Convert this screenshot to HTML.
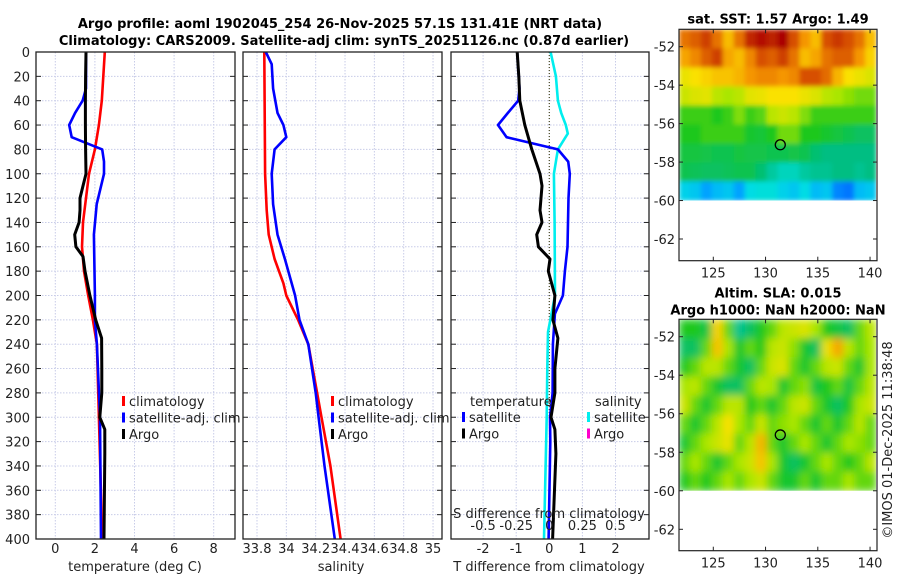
<!DOCTYPE html>
<html><head><meta charset="utf-8">
<style>
html,body{margin:0;padding:0;background:#fff;}
svg{display:block;font-family:"DejaVu Sans","Liberation Sans",sans-serif;}
.t{font-size:13px;fill:#222;}
.b{font-weight:bold;font-size:13px;fill:#000;}
</style></head>
<body>
<svg id="fig" width="900" height="580" viewBox="0 0 900 580" xmlns="http://www.w3.org/2000/svg">
<g id="g-title">
<text class="b" x="340" y="28" text-anchor="middle">Argo profile: aoml 1902045_254 26-Nov-2025 57.1S 131.41E (NRT data)</text>
<text class="b" x="344" y="45" text-anchor="middle">Climatology: CARS2009. Satellite-adj clim: synTS_20251126.nc (0.87d earlier)</text>
</g>
<g id="layer"></g>
<text class="t" x="0" y="0" font-size="12" transform="translate(892,440) rotate(-90)" text-anchor="middle">©IMOS 01-Dec-2025 11:38:48</text>
</svg>
<script>
// ---------- data ----------
const depthTicks=[0,20,40,60,80,100,120,140,160,180,200,220,240,260,280,300,320,340,360,380,400];
const tempTicks=[0,2,4,6,8];
const salTicks=[33.8,34,34.2,34.4,34.6,34.8,35];
const salTickLabels=["33.8","34","34.2","34.4","34.6","34.8","35"];
const tdTicks=[-2,-1,0,1,2];
const sdTicks=[-0.5,-0.25,0,0.25,0.5];
const sdTickLabels=["-0.5","-0.25","0","0.25","0.5"];

const argoTD=[0,20,40,60,80,100,110,120,130,140,150,160,168,180,200,220,235,260,280,300,310,330,400];
const argoT=[1.55,1.53,1.52,1.52,1.53,1.55,1.4,1.25,1.25,1.2,0.98,1.04,1.4,1.5,1.75,2.04,2.34,2.35,2.35,2.25,2.5,2.5,2.46];
const climTD=[0,40,60,80,100,120,140,160,180,200,220,240,300,400];
const climT=[2.5,2.35,2.2,2.0,1.7,1.55,1.4,1.35,1.45,1.66,1.9,2.1,2.2,2.37];
const satTD=[0,30,40,50,60,70,80,90,100,125,150,200,220,240,300,400];
const satT=[1.55,1.55,1.38,1.0,0.7,0.83,2.37,2.46,2.46,2.09,1.95,2.0,2.0,2.1,2.26,2.31];

const climSD=[0,100,130,150,170,190,200,220,240,280,300,340,400];
const climS=[33.85,33.855,33.866,33.88,33.92,33.98,34.0,34.08,34.15,34.21,34.24,34.3,34.37];
const satSD=[0,10,30,50,60,70,80,100,125,150,170,200,220,240,280,300,340,400];
const satS=[33.86,33.9,33.91,33.94,33.98,34.0,33.92,33.9,33.91,33.94,33.99,34.06,34.09,34.15,34.2,34.22,34.26,34.33];

const dArgoD=[0,20,40,60,80,100,110,130,140,150,160,170,180,200,220,235,260,280,300,310,330,400];
const dArgoT=[-0.97,-0.92,-0.89,-0.74,-0.53,-0.28,-0.22,-0.28,-0.22,-0.38,-0.33,0.02,-0.03,0.17,0.11,0.26,0.17,0.17,0.05,0.17,0.2,0.1];
const dSatD=[0,30,40,50,60,70,80,90,100,120,160,180,200,215,240,280,300,320,400];
const dSatT=[-0.97,-0.9,-0.94,-1.25,-1.55,-1.29,0.26,0.57,0.62,0.58,0.55,0.47,0.41,0.17,0.11,0.1,0.02,0.03,-0.02];
const dSalD=[0,20,40,50,60,67,80,100,140,200,230,260,300,400];
const dSalS=[0.01,0.05,0.065,0.09,0.125,0.14,0.065,0.035,0.04,0.043,-0.01,-0.015,-0.02,-0.04];

const sstGrid=[
[0.85,0.88,0.92,0.85,0.75,0.85,0.95,0.98,0.96,1.0,0.9,0.8,0.75,0.9,0.93,0.9,0.85,0.75],
[0.78,0.82,0.88,0.92,0.78,0.75,0.82,0.9,0.88,0.92,0.85,0.75,0.78,0.85,0.88,0.88,0.8,0.72],
[0.68,0.7,0.72,0.74,0.74,0.76,0.8,0.82,0.82,0.8,0.82,0.9,0.9,0.86,0.76,0.7,0.68,0.66],
[0.64,0.66,0.67,0.62,0.6,0.62,0.67,0.68,0.7,0.7,0.7,0.68,0.66,0.62,0.6,0.58,0.56,0.56],
[0.52,0.52,0.52,0.5,0.52,0.57,0.52,0.54,0.62,0.64,0.62,0.57,0.52,0.52,0.52,0.52,0.52,0.52],
[0.5,0.5,0.52,0.52,0.52,0.52,0.48,0.47,0.5,0.56,0.56,0.5,0.5,0.48,0.46,0.44,0.42,0.42],
[0.46,0.46,0.45,0.44,0.44,0.46,0.45,0.45,0.44,0.44,0.45,0.44,0.4,0.38,0.38,0.38,0.38,0.38],
[0.44,0.43,0.42,0.42,0.43,0.44,0.44,0.4,0.34,0.3,0.3,0.34,0.36,0.36,0.38,0.38,0.36,0.38],
[0.22,0.2,0.14,0.18,0.2,0.14,0.24,0.26,0.26,0.22,0.2,0.24,0.18,0.2,0.1,0.08,0.18,0.2]];
const slaGrid=[
[0.5,0.5,0.45,0.72,0.55,0.36,0.42,0.5,0.55,0.62,0.64,0.66,0.6,0.5,0.46,0.42,0.55,0.62],
[0.42,0.42,0.55,0.74,0.6,0.48,0.55,0.5,0.62,0.64,0.58,0.48,0.42,0.68,0.78,0.62,0.55,0.6],
[0.5,0.55,0.62,0.62,0.55,0.48,0.42,0.55,0.64,0.66,0.55,0.48,0.55,0.62,0.64,0.55,0.48,0.6],
[0.6,0.62,0.55,0.48,0.42,0.42,0.55,0.62,0.6,0.48,0.55,0.58,0.46,0.5,0.55,0.46,0.55,0.62],
[0.64,0.55,0.48,0.55,0.62,0.62,0.5,0.55,0.48,0.55,0.62,0.64,0.55,0.48,0.42,0.5,0.6,0.64],
[0.55,0.48,0.55,0.62,0.7,0.6,0.55,0.64,0.55,0.58,0.6,0.55,0.48,0.55,0.48,0.55,0.62,0.55],
[0.48,0.55,0.6,0.64,0.68,0.55,0.62,0.76,0.55,0.48,0.55,0.6,0.55,0.48,0.55,0.6,0.58,0.55],
[0.55,0.6,0.55,0.48,0.55,0.6,0.64,0.74,0.6,0.48,0.42,0.48,0.55,0.6,0.55,0.5,0.55,0.62],
[0.5,0.55,0.5,0.55,0.6,0.55,0.6,0.64,0.55,0.48,0.48,0.55,0.48,0.55,0.55,0.6,0.55,0.55]];
const lonTicks=[125,130,135,140];
const latTicks=[-52,-54,-56,-58,-60,-62];
const argoLon=131.41, argoLat=-57.1;

// ---------- drawing ----------
const NS="http://www.w3.org/2000/svg";
const layer=document.getElementById('layer');
function mk(tag,attrs,parent){const e=document.createElementNS(NS,tag);for(const k in attrs)e.setAttribute(k,attrs[k]);(parent||layer).appendChild(e);return e;}
const Y0=52,Y1=539;
const yD=d=>Y0+(Y1-Y0)*d/400;
const PT=52,PB=539;

function panel(x0,x1,name){
  const g=mk('g',{});
  
  
  return g;
}
function grid(g,x0,x1,xs){
  xs.forEach(x=>{const l=mk('line',{x1:x,x2:x,y1:PT,y2:PB,stroke:'#c8cce8','stroke-dasharray':'1.5,1.5','stroke-width':1},g);
    });
  depthTicks.forEach(d=>{const y=yD(d);
    const l=mk('line',{x1:x0,x2:x1,y1:y,y2:y,stroke:'#c8cce8','stroke-dasharray':'1.5,1.5','stroke-width':1},g);
    
    mk('line',{x1:x0,x2:x0+5,y1:y,y2:y,stroke:'#222'},g);
    mk('line',{x1:x1-5,x2:x1,y1:y,y2:y,stroke:'#222'},g);});
}
function frame(g,x0,x1){const r=mk('rect',{x:x0,y:PT,width:x1-x0,height:PB-PT,fill:'none',stroke:'#222','stroke-width':1.3},g);
  }
function line(g,ds,vs,sx,color,name,w){
  const pts=ds.map((d,i)=>sx(vs[i]).toFixed(1)+','+yD(d).toFixed(1)).join(' ');
  const p=mk('polyline',{points:pts,fill:'none',stroke:color,'stroke-width':w||2.6,'stroke-linejoin':'round'},g);
  
}
function txt(g,x,y,s,anchor,name,extra){const t=mk('text',Object.assign({x:x,y:y,class:'t','text-anchor':anchor||'start'},extra||{}),g);t.textContent=s;
  return t;}
function legend(g,x,y,items,name){
  const lg=mk('g',{},g);
  items.forEach((it,i)=>{const yy=y+i*16.5;
    const m=mk('rect',{x:x,y:yy-10,width:3,height:10,fill:it[1]},lg);
    
    txt(lg,x+7,yy,it[0],'start','legend-entry');});
}

// Panel 1 temperature
(function(){
  const x0=36,x1=235; const sx=v=>55.3+19.8*v;
  const g=panel(x0,x1,'temperature-panel');
  grid(g,x0,x1,tempTicks.map(sx));
  line(g,climTD,climT,sx,'#ff0000','climatology-temp-line');
  line(g,satTD,satT,sx,'#0000ff','satellite-temp-line');
  line(g,argoTD,argoT,sx,'#000','argo-temp-line',3);
  frame(g,x0,x1);
  depthTicks.forEach(d=>txt(g,30,yD(d)+5,String(d),'end','depth-tick-label'));
  tempTicks.forEach(v=>txt(g,sx(v),553,String(v),'middle','temp-tick-label'));
  txt(g,135,571,'temperature (deg C)','middle','x-axis-title');
  legend(g,122,406,[['climatology','#ff0000'],['satellite-adj. clim','#0000ff'],['Argo','#000']],'temperature-legend');
})();
// Panel 2 salinity
(function(){
  const x0=243,x1=442; const sx=v=>257+146.7*(v-33.8);
  const g=panel(x0,x1,'salinity-panel');
  grid(g,x0,x1,salTicks.map(sx));
  line(g,climSD,climS,sx,'#ff0000','climatology-salinity-line');
  line(g,satSD,satS,sx,'#0000ff','satellite-salinity-line');
  frame(g,x0,x1);
  salTicks.forEach((v,i)=>txt(g,sx(v),553,salTickLabels[i],'middle','salinity-tick-label'));
  txt(g,341,571,'salinity','middle','x-axis-title');
  legend(g,331,406,[['climatology','#ff0000'],['satellite-adj. clim','#0000ff'],['Argo','#000']],'salinity-legend');
})();
// Panel 3 differences
(function(){
  const x0=451,x1=649; const sx=v=>549.3+33.1*v; const ss=v=>549.3+132.4*v;
  const g=panel(x0,x1,'difference-panel');
  grid(g,x0,x1,tdTicks.map(sx));
  const z=mk('line',{x1:sx(0),x2:sx(0),y1:PT,y2:yD(300),stroke:'#4a4a20','stroke-dasharray':'1,2','stroke-width':1.2},g);
  
  line(g,dSalD,dSalS,ss,'#00eeee','salinity-satellite-diff-line');
  line(g,dSatD,dSatT,sx,'#0000ff','temp-satellite-diff-line');
  line(g,dArgoD,dArgoT,sx,'#000','temp-argo-diff-line',3);
  frame(g,x0,x1);
  tdTicks.forEach(v=>txt(g,sx(v),553,String(v),'middle','t-diff-tick-label'));
  sdTicks.forEach((v,i)=>txt(g,ss(v),530,sdTickLabels[i],'middle','s-diff-tick-label'));
  txt(g,549,518,'S difference from climatology','middle','s-diff-axis-title');
  txt(g,549,571,'T difference from climatology','middle','x-axis-title');
  txt(g,470,406,'temperature','start','legend-title');
  txt(g,595,406,'salinity','start','legend-title');
  legend(g,462,422,[['satellite','#0000ff'],['Argo','#000']],'temperature-diff-legend');
  legend(g,587,422,[['satellite','#00eeee'],['Argo','#ff00cc']],'salinity-diff-legend');
})();

// Maps
const cmapStops=[[0,[0,60,255]],[0.15,[0,170,255]],[0.25,[0,225,225]],[0.38,[0,190,130]],[0.5,[30,200,30]],[0.6,[170,230,0]],[0.7,[250,225,0]],[0.8,[245,150,0]],[0.9,[215,80,0]],[1,[170,0,0]]];
function cmap(v){v=Math.max(0,Math.min(1,v));
  for(let i=1;i<cmapStops.length;i++){if(v<=cmapStops[i][0]){const a=cmapStops[i-1],b=cmapStops[i];const t=(v-a[0])/(b[0]-a[0]);
    return 'rgb('+a[1].map((c,k)=>Math.round(c+(b[1][k]-c)*t)).join(',')+')';}}
  return 'rgb(170,0,0)';}
function map(top,bot,lat52,lat62,gridv,title1,title2,name,blur){
  const x0=679,x1=877; const lonX=l=>713.3+(l-125)*10.45;
  const latY=l=>lat52+(l-(-52))*(lat62-lat52)/(-10);
  const g=mk('g',{});
  const cp=mk('clipPath',{id:name+'-clip'},g);
  mk('rect',{x:x0,y:top,width:x1-x0-1,height:latY(-60)-top},cp);
  const cg=mk('g',{filter:'url(#'+blur+')','clip-path':'url(#'+name+'-clip)'},g);
  const rows=gridv.length,cols=gridv[0].length;
  const yTop=top,yBot=latY(-60),cw=(x1-1-x0)/cols,rh=(yBot-yTop)/rows;
  for(let r=0;r<rows;r++)for(let c=0;c<cols;c++){
    const cell=mk('rect',{x:(x0+c*cw).toFixed(1),y:(yTop+r*rh).toFixed(1),width:(cw+0.6).toFixed(1),height:(rh+0.6).toFixed(1),fill:cmap(gridv[r][c])},cg);
    }
  const fr=mk('rect',{x:x0,y:top,width:x1-x0,height:bot-top,fill:'none',stroke:'#222','stroke-width':1.2},g);
  
  latTicks.forEach(l=>{const y=latY(l);mk('line',{x1:x0,x2:x0+4,y1:y,y2:y,stroke:'#222'},g);mk('line',{x1:x1-4,x2:x1,y1:y,y2:y,stroke:'#222'},g);
    txt(g,675,y+5,String(l),'end','lat-tick-label');});
  lonTicks.forEach(l=>{const x=lonX(l);mk('line',{x1:x,x2:x,y1:bot,y2:bot-4,stroke:'#222'},g);mk('line',{x1:x,x2:x,y1:top,y2:top+4,stroke:'#222'},g);
    txt(g,x,bot+17,String(l),'middle','lon-tick-label');});
  const c=mk('circle',{cx:lonX(argoLon),cy:latY(argoLat),r:5,fill:'none',stroke:'#000','stroke-width':1.3},g);
  
  if(title1){const t=txt(g,778,top-(title2?22:6),title1,'middle','map-title');t.setAttribute('class','b');}
  if(title2){const t=txt(g,778,top-5,title2,'middle','map-title');t.setAttribute('class','b');}
}
const defs=mk('defs',{});
const f=mk('filter',{id:'bl',x:'-5%',y:'-5%',width:'110%',height:'110%'},defs);mk('feGaussianBlur',{stdDeviation:4,'edgeMode':'duplicate'},f);
const f2=mk('filter',{id:'bl2',x:'-5%',y:'-5%',width:'110%',height:'110%'},defs);mk('feGaussianBlur',{stdDeviation:2.5,'edgeMode':'duplicate'},f2);
map(29.3,260.7,46.7,239,sstGrid,'sat. SST: 1.57 Argo: 1.49',null,'sst-map','bl2');
map(319.3,550.7,336.7,529.3,slaGrid,'Altim. SLA: 0.015','Argo h1000: NaN h2000: NaN','sla-map','bl');
</script>
</body></html>
